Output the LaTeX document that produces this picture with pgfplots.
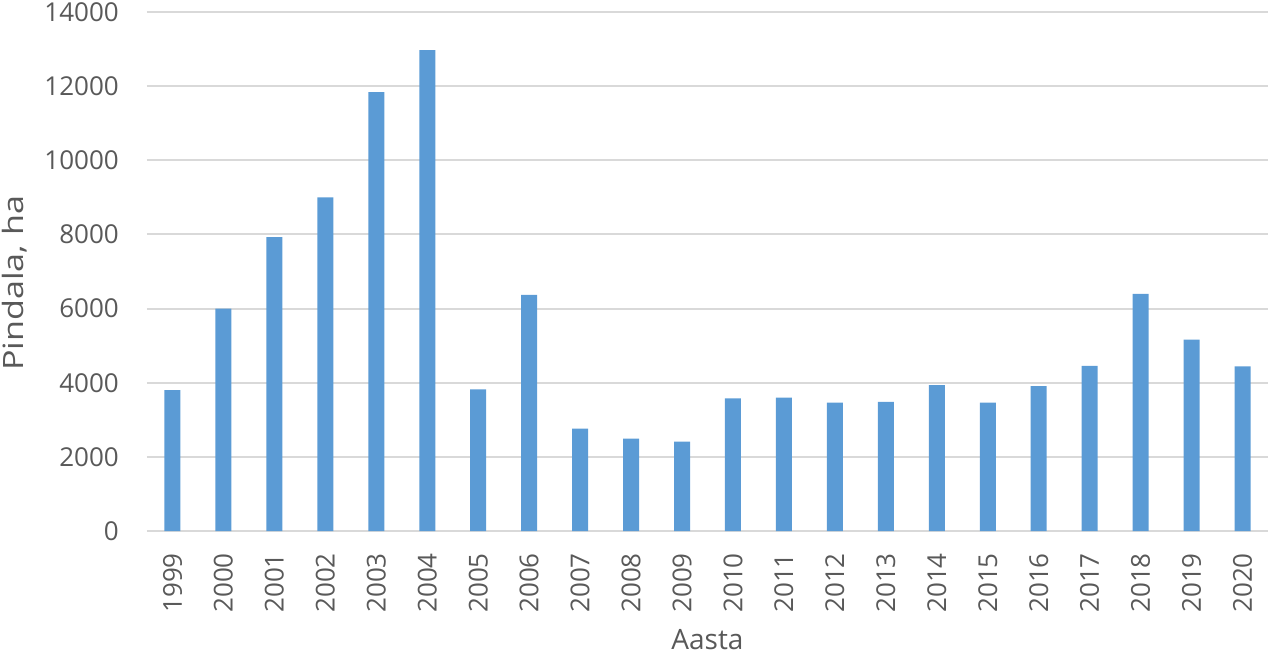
\documentclass[border=0pt]{standalone}
\usepackage{fontspec}
\setmainfont{Open Sans}
\newfontfamily\ylabfont[FakeStretch=1.22]{Open Sans}
\usepackage{pgfplots}
\pgfplotsset{compat=1.18}
\definecolor{barblue}{HTML}{5B9BD5}
\definecolor{gridgray}{HTML}{D9D9D9}
\definecolor{txtgray}{HTML}{595959}
\begin{document}
\begin{tikzpicture}
\path[use as bounding box] (-110.25pt,-93.75pt) rectangle (849.75pt,398.25pt);
\begin{axis}[
  at={(0,0)}, anchor=south west,
  scale only axis, width=840.75pt, height=389.25pt,
  xmin=-0.5, xmax=21.5, ymin=0, ymax=14000,
  ybar, bar width=12pt,
  xtick=data,
  xticklabels={1999,2000,2001,2002,2003,2004,2005,2006,2007,2008,2009,2010,2011,2012,2013,2014,2015,2016,2017,2018,2019,2020},
  ytick={0,2000,4000,6000,8000,10000,12000,14000},
  scaled y ticks=false,
  axis line style={draw=none},
  major tick length=0pt,
  ymajorgrids, grid style={gridgray, line width=1.5pt},
  /pgf/number format/assume math mode=true,
  /pgf/number format/1000 sep={},
  ticklabel style={font=\fontsize{19.5}{22}\selectfont, text=txtgray, inner sep=0pt},
  yticklabel style={anchor=east},
  yticklabel shift=21pt,
  xticklabel style={rotate=90, anchor=east},
  xticklabel shift=16.5pt,
  xlabel={Aasta},
  xlabel style={at={(axis description cs:0.5,-0.229)}, anchor=base, font=\fontsize{21}{24}\selectfont, text=txtgray},
  ylabel={Pindala, ha},
  ylabel style={at={(axis description cs:-0.1106,0.477)}, anchor=base, font=\ylabfont\fontsize{21}{24}\selectfont, text=txtgray},
]
\addplot[draw=none, fill=barblue] coordinates {
  (0,3800) (1,6000) (2,7930) (3,9000) (4,11840) (5,12970) (6,3820) (7,6370)
  (8,2760) (9,2495) (10,2410) (11,3580) (12,3600) (13,3465) (14,3485) (15,3935)
  (16,3465) (17,3905) (18,4455) (19,6395) (20,5160) (21,4440)
};
\end{axis}
\end{tikzpicture}
\end{document}
